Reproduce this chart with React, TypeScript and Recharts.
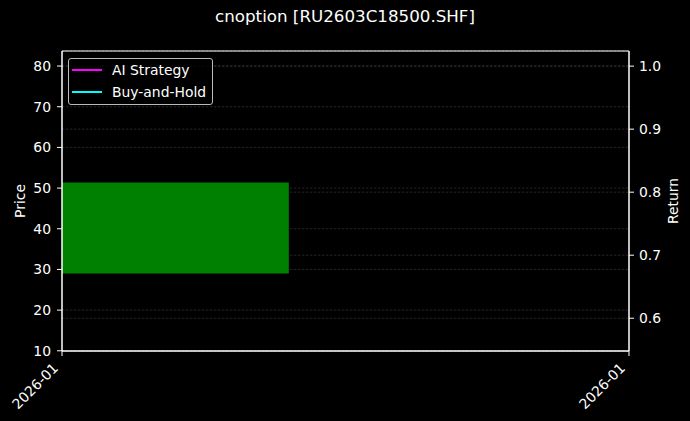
import React from "react";
import {
  ComposedChart,
  CartesianGrid,
  Legend,
  Line,
  ReferenceArea,
  XAxis,
  YAxis,
} from "recharts";

const TITLE = "cnoption [RU2603C18500.SHF]";

// x positions (trading-day index) and their tick labels
const xTicks = [0, 1];
const xTickLabels = ["2026-01", "2026-01"];

const priceTicks = [10, 20, 30, 40, 50, 60, 70, 80];
const returnTicks = [0.6, 0.7, 0.8, 0.9, 1.0];
const priceDomain = [9.95, 83.7];
const returnDomain = [0.548, 1.024];

// single candle, left half clipped by the axis
const candleX = [0];
const candleOpen = [29.0];
const candleClose = [51.4];
const candleWidth = 0.8;

// strategy curves have no visible points
const aiStrategy: (number | null)[] = [null, null];
const buyHold: (number | null)[] = [null, null];

const data = xTicks.map((x, i) => ({ x, ai: aiStrategy[i], bh: buyHold[i] }));

const FONT = "'DejaVu Sans', sans-serif";
const FG = "#ffffff";
const GRID = "#3e3e3e";

function XTick(props: any) {
  const { x, y, payload } = props;
  const idx = xTicks.indexOf(payload.value);
  return (
    <text
      x={x - 3}
      y={y + 11}
      transform={`rotate(-45, ${x - 3}, ${y + 11})`}
      textAnchor="end"
      fill={FG}
      fontSize={13.9}
      fontFamily={FONT}
    >
      {xTickLabels[idx]}
    </text>
  );
}

function LegendBox({ payload }: any) {
  return (
    <div
      style={{
        border: "1px solid #bbbbbb",
        borderRadius: 3,
        background: "rgba(0,0,0,0.8)",
        padding: "0px 6px 1px 3px",
        fontFamily: FONT,
        fontSize: 13.9,
        color: FG,
        width: "fit-content",
      }}
    >
      {(payload || []).map((p: any) => (
        <div
          key={p.value}
          style={{ display: "flex", alignItems: "center", height: 22 }}
        >
          <span
            style={{
              display: "inline-block",
              width: 30,
              height: 2.8,
              background: p.color,
              marginRight: 10,
            }}
          />
          {p.value}
        </div>
      ))}
    </div>
  );
}

function AxisTitle(text: string, side: "left" | "right") {
  return ({ viewBox }: any) => {
    const cx = side === "left" ? 20 : 673;
    const cy = viewBox.y + viewBox.height / 2;
    return (
      <text
        x={cx}
        y={cy}
        transform={`rotate(-90, ${cx}, ${cy})`}
        textAnchor="middle"
        dominantBaseline="central"
        fill={FG}
        fontSize={13.9}
        fontFamily={FONT}
      >
        {text}
      </text>
    );
  };
}

export default function App() {
  return (
    <div style={{ position: "relative", width: 690, height: 421, background: "#000" }}>
      <style>{`body{margin:0;background:#000}`}</style>
      <div
        style={{
          position: "absolute",
          left: 0,
          top: 6,
          width: 690,
          textAlign: "center",
          color: FG,
          fontFamily: FONT,
          fontSize: 16.7,
        }}
      >
        {TITLE}
      </div>
      <ComposedChart
        width={690}
        height={421}
        data={data}
        margin={{ top: 51, right: 0, bottom: 0, left: 0 }}
      >
        <CartesianGrid
          yAxisId="left"
          vertical={false}
          stroke={GRID}
          strokeDasharray="2.5 1.5"
          strokeWidth={0.6}
        />
        <CartesianGrid
          yAxisId="right"
          vertical={false}
          stroke={GRID}
          strokeDasharray="2.5 1.5"
          strokeWidth={0.6}
        />
        <XAxis
          dataKey="x"
          type="number"
          domain={[0, 1]}
          ticks={xTicks}
          allowDataOverflow
          height={70}
          stroke={FG}
          tickSize={5}
          tick={<XTick />}
        />
        <YAxis
          yAxisId="left"
          domain={priceDomain}
          ticks={priceTicks}
          allowDataOverflow
          width={62}
          stroke={FG}
          tickSize={5}
          tickMargin={6}
          tick={{ fill: FG, fontSize: 13.9, fontFamily: FONT }}
          label={{ content: AxisTitle("Price", "left") }}
        />
        <YAxis
          yAxisId="right"
          orientation="right"
          domain={returnDomain}
          ticks={returnTicks}
          allowDataOverflow
          width={61}
          stroke={FG}
          tickSize={5}
          tickMargin={5}
          tickFormatter={(v: number) => v.toFixed(1)}
          tick={{ fill: FG, fontSize: 13.9, fontFamily: FONT }}
          label={{ content: AxisTitle("Return", "right") }}
        />
        {candleX.map((cx, i) => (
          <ReferenceArea
            key={i}
            yAxisId="left"
            x1={cx - candleWidth / 2}
            x2={cx + candleWidth / 2}
            y1={Math.min(candleOpen[i], candleClose[i])}
            y2={Math.max(candleOpen[i], candleClose[i])}
            fill={candleClose[i] >= candleOpen[i] ? "#008000" : "#ff0000"}
            fillOpacity={1}
            stroke="none"
            ifOverflow="hidden"
          />
        ))}
        {/* plot frame (spines) */}
        <ReferenceArea
          yAxisId="left"
          x1={0}
          x2={1}
          y1={priceDomain[0]}
          y2={priceDomain[1]}
          fill="none"
          stroke={FG}
          strokeWidth={1}
        />
        <Line
          yAxisId="right"
          dataKey="ai"
          name="AI Strategy"
          stroke="#ff00ff"
          strokeWidth={2}
          dot={false}
          isAnimationActive={false}
          legendType="plainline"
        />
        <Line
          yAxisId="right"
          dataKey="bh"
          name="Buy-and-Hold"
          stroke="#00ffff"
          strokeWidth={2}
          dot={false}
          isAnimationActive={false}
          legendType="plainline"
        />
        <Legend
          layout="vertical"
          verticalAlign="middle"
          align="center"
          content={<LegendBox />}
          wrapperStyle={{ top: 58, left: 68, width: "auto" }}
        />
      </ComposedChart>
    </div>
  );
}
